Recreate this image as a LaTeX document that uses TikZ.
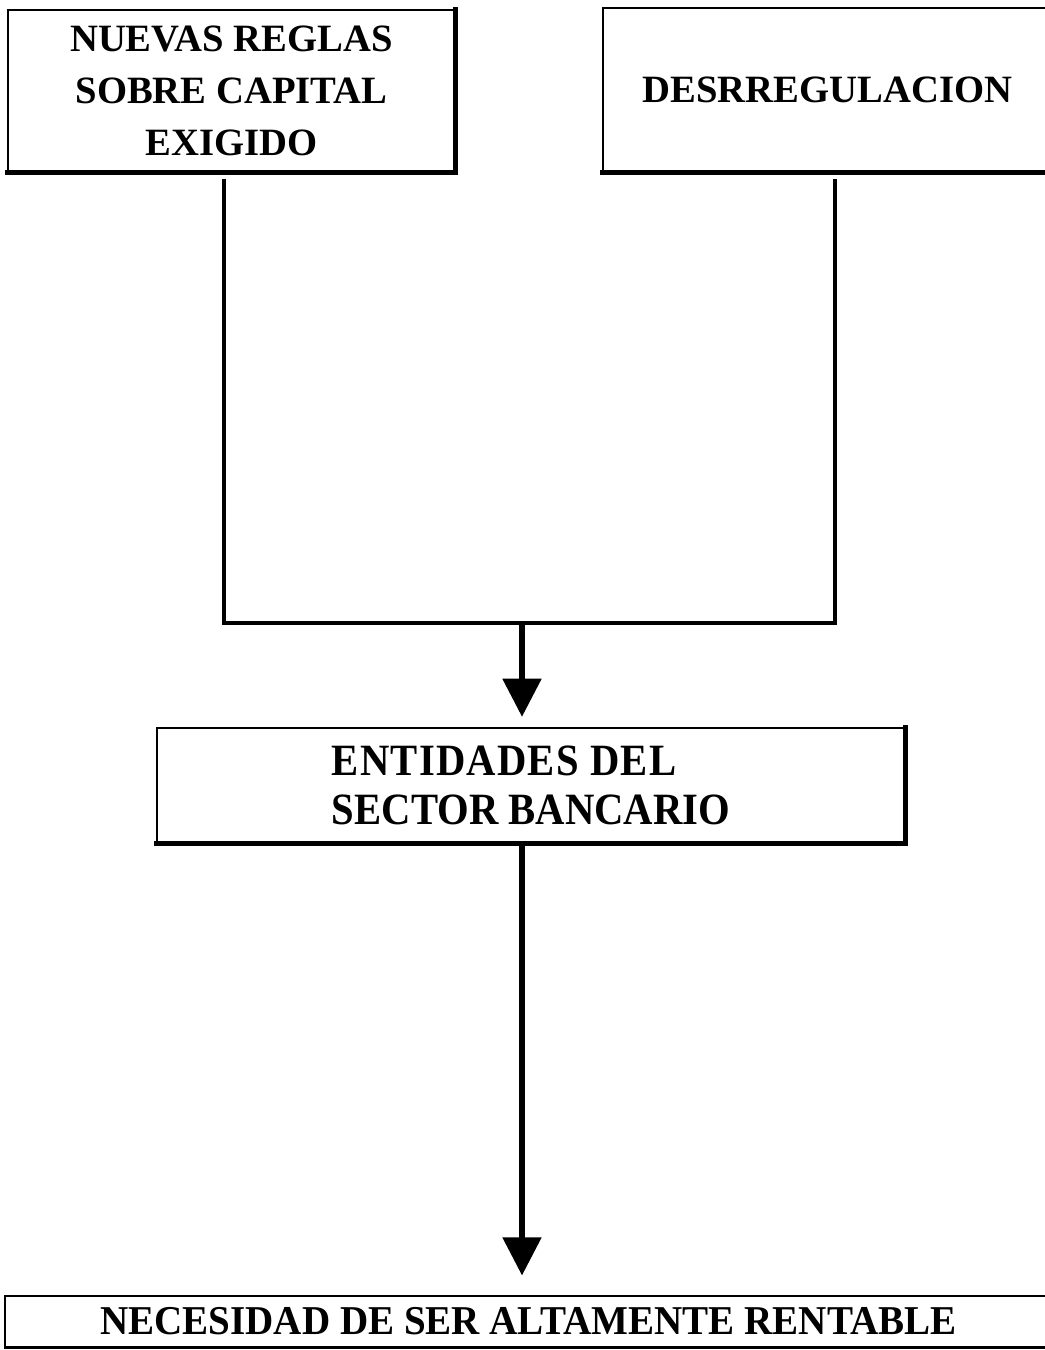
\documentclass[tikz,border=0pt]{standalone}
\usepackage{fontspec}
\setmainfont{Liberation Serif}
\usetikzlibrary{arrows.meta}

\begin{document}
\begin{tikzpicture}[x=0.75pt,y=-0.75pt,
  panel/.style={draw, line width=0.9pt, inner sep=0pt, align=center,
    font=\bfseries\fontsize{29}{39}\selectfont},
  shadowedge/.style={line width=3.6pt, line cap=rect},
  link/.style={line width=3.4pt, line join=miter},
  flow/.style={line width=3.8pt, shorten >=8pt,
    -{Triangle[width=28.5pt,length=28.5pt]}}
]
\useasboundingbox (0,0) rectangle (1045,1350);

% boxes
\node[panel, minimum width=335.25pt, minimum height=121.5pt] (reglas) at (231.5,91)
  {NUEVAS REGLAS\\SOBRE CAPITAL\\EXIGIDO};
\node[panel, minimum width=336.75pt, minimum height=123pt] (desreg) at (827.5,90)
  {DESRREGULACION};
\node[panel, align=left, minimum width=561pt, minimum height=86.25pt,
  font=\bfseries\fontsize{30.5}{39}\selectfont] (entidades) at (531,785.5)
  {\scalebox{1}[1.1]{\addfontfeature{LetterSpace=3}ENTIDADES DEL}\\[-2pt]
   \scalebox{1}[1.1]{SECTOR BANCARIO}};
\node[panel, minimum width=785.25pt, minimum height=38.25pt] (necesidad) at (528.5,1321.5)
  {\scalebox{1.01}[1.06]{NECESIDAD DE SER ALTAMENTE RENTABLE}};

% heavy right and bottom edges
\draw[shadowedge] (reglas.north east) -- (reglas.south east) -- (reglas.south west);
\draw[shadowedge] (desreg.south east) -- (desreg.south west);
\draw[shadowedge] (entidades.north east) -- (entidades.south east) -- (entidades.south west);
\draw[line width=2.4pt] (necesidad.south east) -- (necesidad.south west);

% junction of the two upper branches
\coordinate (jl) at (224,623);
\coordinate (jr) at (835,623);
\coordinate (jm) at (522,623);

\draw[link] ([yshift=-4.5pt]reglas.south -| jl) -- (jl) -- (jr) -- ([yshift=-4.5pt]desreg.south -| jr);
\draw[flow] (jm) -- (entidades.north -| jm);
\draw[flow, shorten >=15pt] ([yshift=-2pt]entidades.south -| jm) -- (necesidad.north -| jm);
\end{tikzpicture}
\end{document}
